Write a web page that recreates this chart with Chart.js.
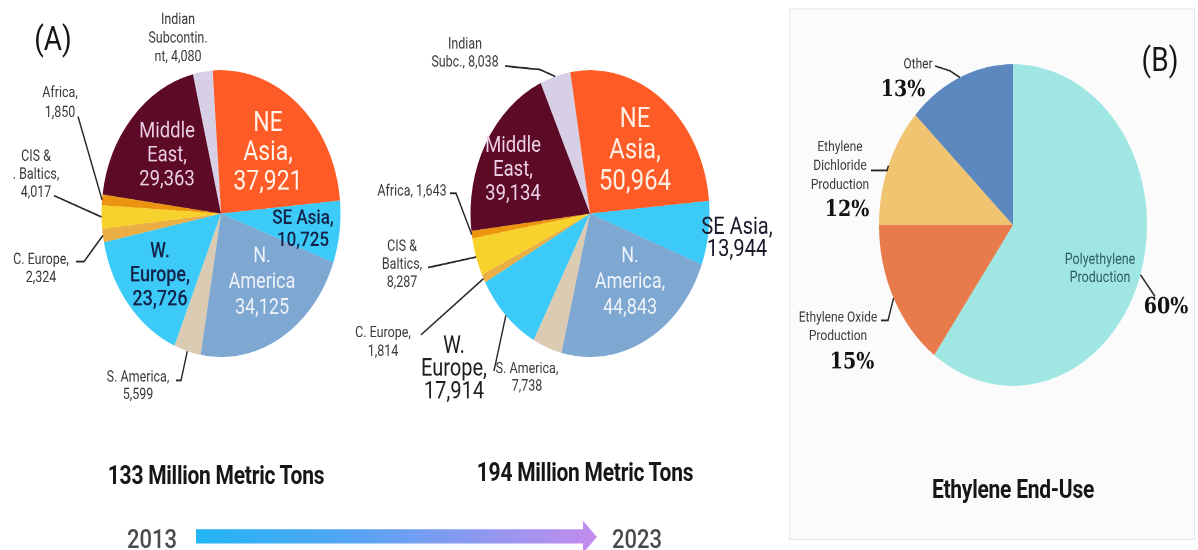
<!DOCTYPE html>
<html>
<head>
<meta charset="utf-8">
<script src="https://cdn.jsdelivr.net/npm/chart.js@4.4.1/dist/chart.umd.min.js"></script>
<style>
  html, body { margin: 0; padding: 0; background: #fff; overflow: hidden; }
  body { width: 1198px; height: 550px; }
  /* the source picture is stretched ~1.2x vertically, so draw flat and stretch the whole stage */
  #stage { position: relative; width: 1198px; height: 459px; transform: scaleY(1.2); transform-origin: 0 0; }
  #stage canvas { position: absolute; top: 0; }
  .txt { position: absolute; transform: translate(-50%, -50%); white-space: nowrap; font-family: Roboto, "Liberation Sans", sans-serif; color: #161616; }
  .panel { position: absolute; font-size: 28px; }
  .total { font-size: 21px; font-weight: 700; letter-spacing: -0.25px; }
  .year { font-size: 22px; font-weight: 500; color: #4a4a4a; }
  #boxB { position: absolute; left: 789px; top: 7px; width: 404px; height: 441px; background: #fbfbfb; border: 1px solid #e9e9e9; }
  #arrow { position: absolute; left: 196px; top: 434px; width: 401px; height: 27px;
    background: linear-gradient(90deg, #22b5f4 0%, #4fa6f3 35%, #8c98f0 70%, #c48cee 100%);
    clip-path: polygon(0 26%, 96.5% 26%, 96.5% 0, 100% 50%, 96.5% 100%, 96.5% 70%, 0 70%); }
</style>
</head>
<body>
<div id="stage">
  <div id="boxB"></div>
  <canvas id="pie2013" width="350" height="380" style="left:0px"></canvas>
  <canvas id="pie2023" width="430" height="380" style="left:350px"></canvas>
  <canvas id="pieUse" width="418" height="380" style="left:780px"></canvas>

  <div class="txt panel" style="left:53px; top:32px">(A)</div>
  <div class="txt panel" style="left:1160px; top:50px">(B)</div>
  <div class="txt total" style="left:216px; top:396px">133 Million Metric Tons</div>
  <div class="txt total" style="left:585px; top:394px">194 Million Metric Tons</div>
  <div class="txt total" style="left:1013px; top:408px">Ethylene End-Use</div>
  <div class="txt year" style="left:152px; top:449px">2013</div>
  <div class="txt year" style="left:637px; top:449px">2023</div>
  <div id="arrow"></div>
</div>

<script>
'use strict';

// ---- data ----
const regions = ['NE Asia', 'SE Asia', 'N. America', 'S. America', 'W. Europe',
  'C. Europe', 'CIS & Baltics', 'Africa', 'Middle East', 'Indian Subcontinent'];
const capacity2013 = [37921, 10725, 34125, 5599, 23726, 2324, 4017, 1850, 29363, 4080];
const capacity2023 = [50964, 13944, 44843, 7738, 17914, 1814, 8287, 1643, 39134, 8038];
const regionColors = ['#ff5b26', '#3ccbf9', '#7ea7d2', '#dccbb3', '#3ccbf9',
  '#ebae45', '#f8d22c', '#ec9410', '#5c0a25', '#d7cfe5'];

const endUses = ['Polyethylene Production', 'Ethylene Oxide Production',
  'Ethylene Dichloride Production', 'Other'];
const endUseShares = [60, 15, 12, 13];
const endUseColors = ['#a0e7e3', '#e87b4c', '#f0c470', '#5b89bf'];

// ---- label layout (page coords of the flat stage) ----
const big = '23px Roboto', mid = '18px Roboto', small = '12.5px Roboto';
const ink = '#3a3a3a', navy = '#14224a';

const labels2013 = [
  {i: 0, lines: ['NE', 'Asia,', '{v}'], x: 268, y: 103, lh: 24.5, font: big, color: '#fff3ea'},
  {i: 1, lines: ['SE Asia,', '{v}'], x: 303, y: 182, lh: 18.5, font: '500 17px Roboto', color: navy},
  {i: 2, lines: ['N.', 'America', '{v}'], x: 262, y: 214, lh: 21.5, font: mid, color: '#eef3fa'},
  {i: 4, lines: ['W.', 'Europe,', '{v}'], x: 160, y: 210, lh: 20, font: '500 18px Roboto', color: navy},
  {i: 8, lines: ['Middle', 'East,', '{v}'], x: 167, y: 110, lh: 20, font: '18.5px Roboto', color: '#ebcde5'},
  {i: 9, lines: ['Indian', 'Subcontin.', 'nt, {v}'], x: 178, y: 17, lh: 15.5, font: small, color: ink},
  {i: 7, lines: ['Africa,', '{v}'], x: 60, y: 78, lh: 16.5, font: small, color: ink, from: [78, 97]},
  {i: 6, lines: ['CIS &', '. Baltics,', '{v}'], x: 36, y: 131, lh: 15, font: small, color: ink, from: [54, 163]},
  {i: 5, lines: ['C. Europe,', '{v}'], x: 41, y: 217, lh: 15, font: small, color: ink, from: [76, 218], elbow: [84, 218]},
  {i: 3, lines: ['S. America,', '{v}'], x: 138, y: 315, lh: 14.5, font: small, color: ink, from: [176, 317], elbow: [181, 317]}
];

const labels2023 = [
  {i: 0, lines: ['NE', 'Asia,', '{v}'], x: 635, y: 100, lh: 26, font: '24px Roboto', color: '#fff0e6'},
  {i: 2, lines: ['N.', 'America,', '{v}'], x: 630, y: 214, lh: 21.5, font: mid, color: '#eef3fa'},
  {i: 8, lines: ['Middle', 'East,', '{v}'], x: 513, y: 122, lh: 20, font: '18.5px Roboto', color: '#efd3ea'},
  {i: 1, lines: ['SE Asia,', '{v}'], x: 737, y: 190, lh: 18.5, font: '20px Roboto', color: '#1a1a2a'},
  {i: 4, lines: ['W.', 'Europe,', '{v}'], x: 454, y: 289, lh: 19, font: '20px Roboto', color: '#1e1e1e', from: [494, 309]},
  {i: 9, lines: ['Indian', 'Subc., {v}'], x: 465, y: 37.5, lh: 15, font: small, color: ink, from: [505, 55], elbow: [540, 58]},
  {i: 7, lines: ['Africa, {v}'], x: 412, y: 160, lh: 15, font: small, color: ink, from: [450, 161], elbow: [456, 161]},
  {i: 6, lines: ['CIS &', 'Baltics,', '{v}'], x: 402, y: 206, lh: 15, font: small, color: ink, from: [428, 223]},
  {i: 5, lines: ['C. Europe,', '{v}'], x: 383, y: 278, lh: 15.5, font: small, color: ink, from: [421, 279]},
  {i: 3, lines: ['S. America,', '{v}'], x: 527, y: 308, lh: 14.5, font: small, color: ink}
];

const pct = 'bold 19px "DejaVu Serif"';
const labelsUse = [
  {i: 0, lines: ['Polyethylene', 'Production'], x: 1100, y: 217, lh: 15, font: '12.5px Roboto', color: '#2f5f63'},
  {i: 0, lines: ['{v}%'], x: 1166, y: 256, lh: 0, font: pct, color: '#111', from: [1155, 247]},
  {i: 1, lines: ['Ethylene Oxide', 'Production'], x: 838, y: 265, lh: 15.5, font: '12px Roboto', color: ink, from: [881, 267], elbow: [888, 267]},
  {i: 1, lines: ['{v}%'], x: 852, y: 302, lh: 0, font: pct, color: '#111'},
  {i: 2, lines: ['Ethylene', 'Dichloride', 'Production'], x: 840, y: 123, lh: 15.7, font: '12px Roboto', color: ink, from: [871, 142], elbow: [887, 142]},
  {i: 2, lines: ['{v}%'], x: 847, y: 175, lh: 0, font: pct, color: '#111'},
  {i: 3, lines: ['Other'], x: 918, y: 54, lh: 0, font: '12px Roboto', color: ink, from: [935, 55], elbow: [950, 59]},
  {i: 3, lines: ['{v}%'], x: 903, y: 75, lh: 0, font: pct, color: '#111'}
];

// text inside / beside slices, with leader lines ending on the slice rim
const sliceLabels = {
  id: 'sliceLabels',
  afterDatasetsDraw(chart, args, opts) {
    const ctx = chart.ctx;
    const meta = chart.getDatasetMeta(0);
    const data = chart.data.datasets[0].data;
    const off = opts.left;
    ctx.save();
    ctx.textAlign = 'center';
    ctx.textBaseline = 'middle';
    opts.items.forEach(it => {
      const v = data[it.i].toLocaleString('en-US');
      ctx.font = it.font;
      ctx.fillStyle = it.color;
      it.lines.forEach((line, k) => ctx.fillText(line.replace('{v}', v), it.x - off, it.y + k * it.lh));
      if (it.from) {
        const p = meta.data[it.i].getProps(['x', 'y', 'startAngle', 'endAngle', 'outerRadius'], true);
        const a = (p.startAngle + p.endAngle) / 2;
        ctx.beginPath();
        ctx.moveTo(it.from[0] - off, it.from[1]);
        if (it.elbow) ctx.lineTo(it.elbow[0] - off, it.elbow[1]);
        ctx.lineTo(p.x + p.outerRadius * Math.cos(a), p.y + p.outerRadius * Math.sin(a));
        ctx.strokeStyle = '#262626';
        ctx.lineWidth = 1.4;
        ctx.stroke();
      }
    });
    ctx.restore();
  }
};

// padding so the pie lands on a given centre / radius inside its canvas
function padFor(cx, cy, r, left, w, h) {
  return {left: cx - left - r, right: w - (cx - left + r), top: cy - r, bottom: h - (cy + r)};
}

function makePie(id, names, values, colors, rotation, geo, items) {
  const cv = document.getElementById(id);
  const left = parseFloat(cv.style.left);
  return new Chart(cv, {
    type: 'pie',
    data: {
      labels: names,
      datasets: [{data: values, backgroundColor: colors, borderWidth: 0, hoverOffset: 0, offset: 0}]
    },
    options: {
      responsive: false,
      animation: false,
      events: [],
      devicePixelRatio: 2,
      rotation: rotation,
      layout: {padding: padFor(geo.cx, geo.cy, geo.r, left, cv.width, cv.height)},
      plugins: {
        legend: {display: false},
        tooltip: {enabled: false},
        sliceLabels: {items: items, left: left}
      }
    },
    plugins: [sliceLabels]
  });
}

makePie('pie2013', regions, capacity2013, regionColors, -4, {cx: 221, cy: 178, r: 119.5}, labels2013);
makePie('pie2023', regions, capacity2023, regionColors, -9.5, {cx: 590, cy: 178, r: 119.5}, labels2023);
makePie('pieUse', endUses, endUseShares, endUseColors, 0, {cx: 1013, cy: 187.5, r: 134}, labelsUse);
</script>
</body>
</html>
